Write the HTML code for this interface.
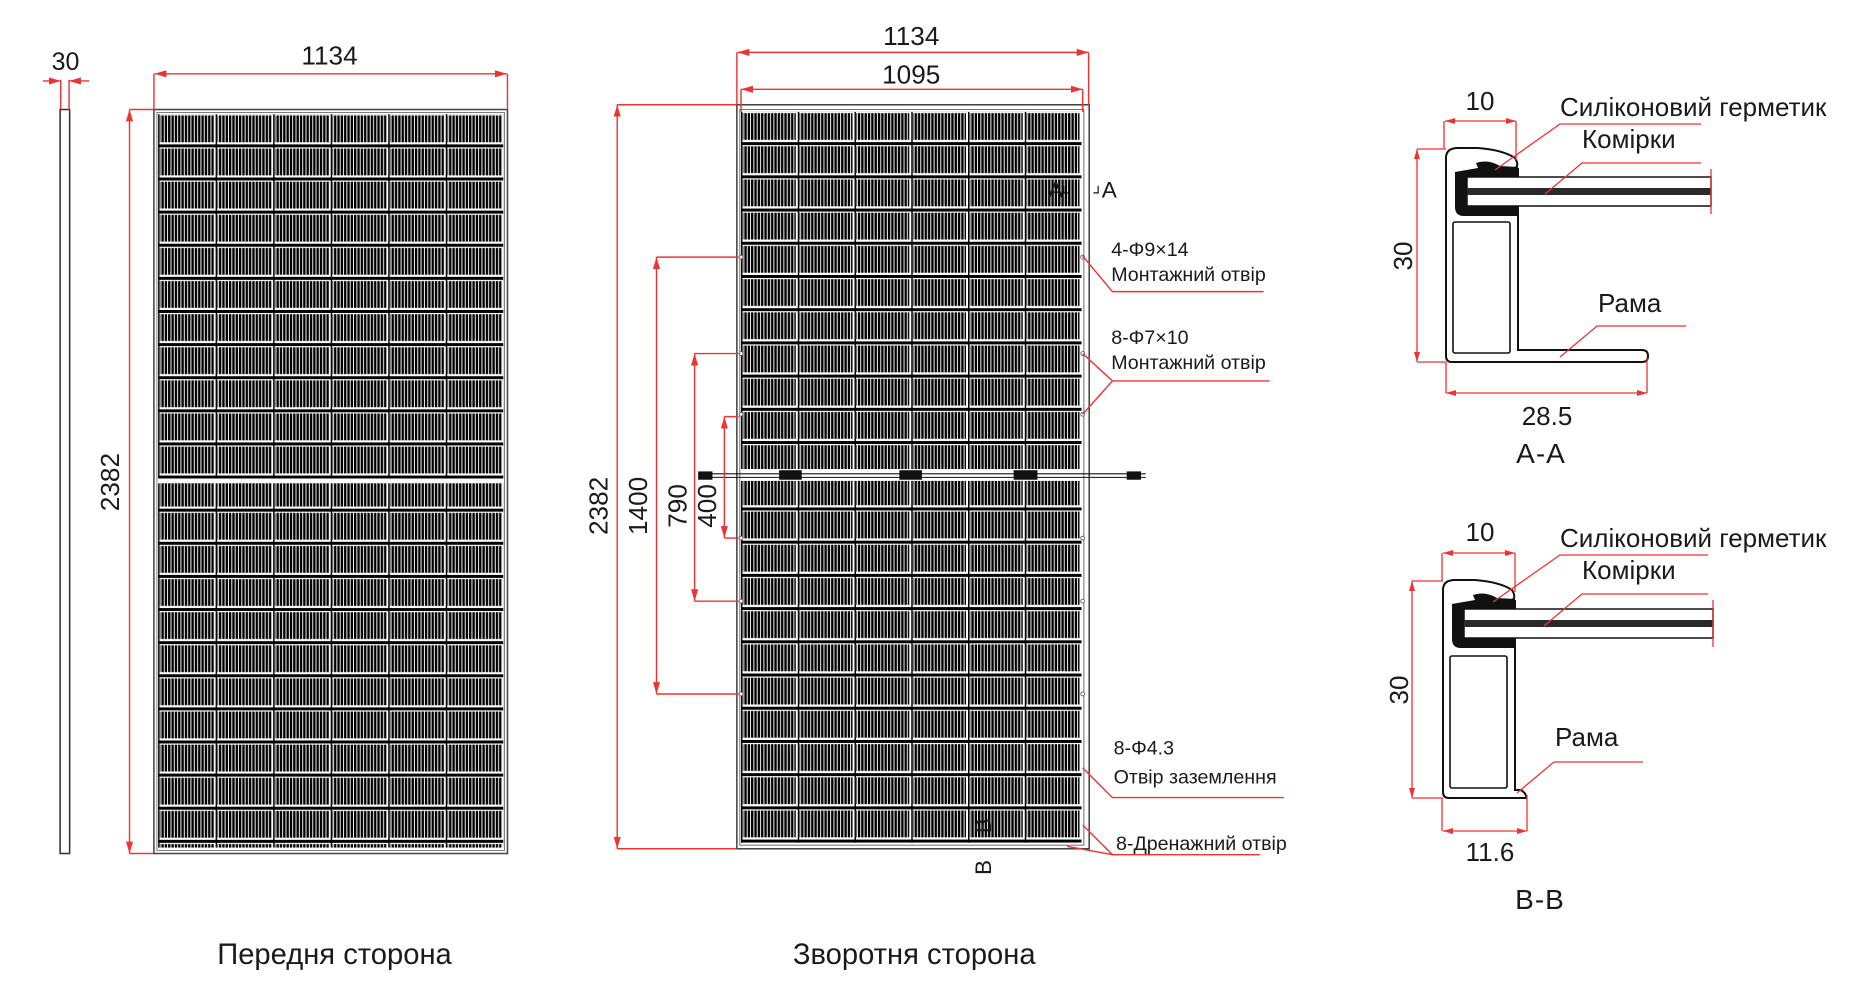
<!DOCTYPE html>
<html><head><meta charset="utf-8"><style>
html,body{margin:0;padding:0;background:#fff;}
svg{display:block;}
text{font-family:"Liberation Sans","DejaVu Sans",sans-serif;fill:#1a1a1a;}
</style></head><body>
<svg width="1857" height="992" viewBox="0 0 1857 992" xmlns="http://www.w3.org/2000/svg">
<defs>
<marker id="ar" viewBox="0 0 10 6" refX="10" refY="3" markerWidth="10" markerHeight="6" markerUnits="userSpaceOnUse" orient="auto-start-reverse"><path d="M0,0 L10,3 L0,6 z" fill="#ee3333"/></marker>
<pattern id="st" patternUnits="userSpaceOnUse" width="2.8" height="10"><rect x="0" y="0" width="2.0" height="10" fill="#000"/></pattern>
<pattern id="cf" patternUnits="userSpaceOnUse" x="134" y="96" width="48.33" height="27.82">
<rect width="48.33" height="27.82" fill="#fff"/>
<rect x="1.5" y="1" width="45.5" height="22.5" fill="url(#st)"/>
<rect x="0" y="25.3" width="48.33" height="2.5" fill="#000"/>
<rect x="0" y="0" width="1.2" height="27.82" fill="#000"/>
</pattern>
<pattern id="cb" patternUnits="userSpaceOnUse" x="626" y="94" width="47.67" height="27.9">
<rect width="47.67" height="27.9" fill="#fff"/>
<rect x="1.5" y="1" width="44.5" height="22.5" fill="url(#st)"/>
<rect x="0" y="25.4" width="47.67" height="2.5" fill="#000"/>
<rect x="0" y="0" width="1.2" height="27.9" fill="#000"/>
</pattern>
</defs>

<g transform="scale(1.1904)">
<!-- side view -->
<rect x="50.5" y="92" width="8" height="625" fill="#fff" stroke="#333" stroke-width="1.3"/>
<g stroke="#ee3333" stroke-width="1.2" fill="none">
<line x1="51" y1="92" x2="51" y2="67"/><line x1="58" y1="92" x2="58" y2="67"/>
<line x1="36" y1="68" x2="51" y2="68" marker-end="url(#ar)"/>
<line x1="75" y1="68" x2="58" y2="68" marker-end="url(#ar)"/>
</g>
<text x="55" y="59" font-size="21" text-anchor="middle">30</text>

<g transform="translate(-1.2,0)">
<rect x="130.5" y="92" width="297" height="625" fill="#fff" stroke="#444" stroke-width="1.3"/>
<rect x="133" y="94.5" width="292" height="620" fill="none" stroke="#777" stroke-width="0.8"/>
<rect x="134" y="96" width="290" height="306" fill="url(#cf)"/>
<rect x="134" y="406" width="290" height="306" fill="url(#cf)"/>
<g stroke="#ee3333" stroke-width="1.2" fill="none">
<line x1="130.5" y1="92" x2="130.5" y2="62"/><line x1="427.5" y1="92" x2="427.5" y2="62"/>
<line x1="131" y1="62" x2="427" y2="62" marker-start="url(#ar)" marker-end="url(#ar)"/>
<line x1="130" y1="92" x2="110" y2="92"/><line x1="130" y1="717" x2="110" y2="717"/>
<line x1="110" y1="92" x2="110" y2="717" marker-start="url(#ar)" marker-end="url(#ar)"/>
</g>
<text x="278" y="54" font-size="22" text-anchor="middle">1134</text>
<text transform="translate(101,405) rotate(-90)" font-size="22" text-anchor="middle">2382</text>
</g>

<g transform="translate(-3.5,0)">
<rect x="622.5" y="88" width="296" height="625" fill="#fff" stroke="#444" stroke-width="1.3"/>
<rect x="625" y="92" width="289" height="618" fill="none" stroke="#666" stroke-width="0.8"/>
<rect x="626" y="94" width="286" height="614" fill="url(#cb)"/>
<rect x="626" y="394" width="286" height="10" fill="#fff"/>
<g stroke="#111" stroke-width="0.9" fill="none">
<line x1="590" y1="398" x2="966" y2="398"/><line x1="590" y1="401" x2="966" y2="401"/>
</g>
<g fill="#111">
<rect x="590" y="396" width="12" height="7"/><rect x="658" y="395" width="19" height="8"/>
<rect x="759" y="395" width="19" height="8"/><rect x="855" y="395" width="20" height="8"/>
<rect x="950" y="396" width="12" height="7"/>
</g>
<g fill="#fff" stroke="#555" stroke-width="0.7">
<circle cx="626" cy="216" r="1.6"/><circle cx="626" cy="297" r="1.6"/><circle cx="626" cy="348" r="1.6"/>
<circle cx="626" cy="452" r="1.6"/><circle cx="626" cy="505" r="1.6"/><circle cx="626" cy="583" r="1.6"/>
<circle cx="913" cy="216" r="1.6"/><circle cx="913" cy="297" r="1.6"/><circle cx="913" cy="348" r="1.6"/>
<circle cx="913" cy="452" r="1.6"/><circle cx="913" cy="505" r="1.6"/><circle cx="913" cy="583" r="1.6"/>
</g>
<g stroke="#ee3333" stroke-width="1.2" fill="none">
<line x1="622.5" y1="88" x2="622.5" y2="44"/><line x1="918" y1="88" x2="918" y2="44"/>
<line x1="623" y1="44" x2="918" y2="44" marker-start="url(#ar)" marker-end="url(#ar)"/>
<line x1="626" y1="94" x2="626" y2="75"/><line x1="913" y1="94" x2="913" y2="75"/>
<line x1="626" y1="75" x2="913" y2="75" marker-start="url(#ar)" marker-end="url(#ar)"/>
<line x1="622" y1="88" x2="522" y2="88"/><line x1="622" y1="713" x2="522" y2="713"/>
<line x1="522" y1="88" x2="522" y2="713" marker-start="url(#ar)" marker-end="url(#ar)"/>
<line x1="624" y1="216" x2="555" y2="216"/><line x1="624" y1="583" x2="555" y2="583"/>
<line x1="555" y1="216" x2="555" y2="583" marker-start="url(#ar)" marker-end="url(#ar)"/>
<line x1="624" y1="297" x2="587" y2="297"/><line x1="624" y1="505" x2="587" y2="505"/>
<line x1="587" y1="297" x2="587" y2="505" marker-start="url(#ar)" marker-end="url(#ar)"/>
<line x1="624" y1="350" x2="612" y2="350"/><line x1="624" y1="452" x2="612" y2="452"/>
<line x1="612" y1="350" x2="612" y2="452" marker-start="url(#ar)" marker-end="url(#ar)"/>
<polyline points="913,215 938,245 1065,245"/>
<polyline points="913,297 938,320 1070,320"/><line x1="913" y1="348" x2="938" y2="320"/>
<polyline points="913,645 938,670 1082,670"/>
<polyline points="913,693 938,718 1062,718"/><line x1="900" y1="711" x2="938" y2="718"/>
</g>
<text x="769" y="38" font-size="22" text-anchor="middle">1134</text>
<text x="769" y="70" font-size="22" text-anchor="middle">1095</text>
<text transform="translate(514,425) rotate(-90)" font-size="22" text-anchor="middle">2382</text>
<text transform="translate(547,425) rotate(-90)" font-size="22" text-anchor="middle">1400</text>
<text transform="translate(580,425) rotate(-90)" font-size="22" text-anchor="middle">790</text>
<text transform="translate(605,425) rotate(-90)" font-size="22" text-anchor="middle">400</text>
<text x="884" y="166" font-size="19">A</text>
<text x="929" y="166" font-size="19">A</text>
<path d="M897,156 v6 h4 M926,156 v6 h-4" stroke="#111" stroke-width="1" fill="none"/>
<text transform="translate(836,700) rotate(-90)" font-size="19">B</text>
<text transform="translate(836,735) rotate(-90)" font-size="19">B</text>
<text x="937" y="215" font-size="16.5">4-Φ9×14</text>
<text x="937" y="236" font-size="16.5">Монтажний отвір</text>
<text x="937" y="289" font-size="16.5">8-Φ7×10</text>
<text x="937" y="310" font-size="16.5">Монтажний отвір</text>
<text x="939" y="634" font-size="16.5">8-Φ4.3</text>
<text x="939" y="658" font-size="16.5">Отвір заземлення</text>
<text x="941" y="714" font-size="16.5">8-Дренажний отвір</text>
</g>
<text x="281" y="810" font-size="24.5" text-anchor="middle">Передня сторона</text>
<text x="768" y="810" font-size="24.5" text-anchor="middle">Зворотня сторона</text>
</g>

<!-- Section A-A -->
<g>
<path d="M1446,158 Q1446,148 1458,148 L1478,148 Q1503,150 1515,158 Q1520,166 1514,169 L1518,169 L1518,350 L1642,350 Q1648,350 1648,356 Q1648,362 1642,362 L1452,362 Q1446,362 1446,356 Z" fill="#fff" stroke="#111" stroke-width="2"/>
<path d="M1455,172 L1478,168 L1476,163 Q1488,159 1500,166 L1518,167 L1518,216 L1464,216 Q1455,216 1455,207 Z" fill="#111"/>
<rect x="1467" y="177" width="244" height="29" fill="#fff" stroke="#111" stroke-width="1.5"/>
<rect x="1467" y="188" width="244" height="7" fill="#2a2a2a"/>
<rect x="1453" y="222" width="57" height="131" rx="2" fill="#fff" stroke="#111" stroke-width="1.6"/>
</g>
<g stroke="#ee3333" stroke-width="1.3" fill="none">
<line x1="1711" y1="169" x2="1711" y2="214"/>
<line x1="1444" y1="149" x2="1444" y2="121"/><line x1="1516" y1="160" x2="1516" y2="121"/>
<line x1="1445" y1="121" x2="1516" y2="121" marker-start="url(#ar)" marker-end="url(#ar)"/>
<line x1="1446" y1="149" x2="1417" y2="149"/><line x1="1446" y1="362" x2="1417" y2="362"/>
<line x1="1417" y1="149" x2="1417" y2="362" marker-start="url(#ar)" marker-end="url(#ar)"/>
<line x1="1446" y1="362" x2="1446" y2="393"/><line x1="1647" y1="358" x2="1647" y2="393"/>
<line x1="1446" y1="393" x2="1647" y2="393" marker-start="url(#ar)" marker-end="url(#ar)"/>
<polyline points="1495,170 1560,124 1701,124"/>
<polyline points="1545,194 1582,163 1701,163"/>
<polyline points="1560,357 1597,326 1686,326"/>
</g>
<text x="1480" y="110" font-size="26" text-anchor="middle">10</text>
<text transform="translate(1412,256) rotate(-90)" font-size="26" text-anchor="middle">30</text>
<text x="1560" y="116" font-size="26">Силіконовий герметик</text>
<text x="1582" y="148" font-size="26">Комірки</text>
<text x="1598" y="312" font-size="26">Рама</text>
<text x="1547" y="425" font-size="26" text-anchor="middle">28.5</text>
<text x="1541" y="463" font-size="28" text-anchor="middle" letter-spacing="1">A-A</text>

<!-- Section B-B -->
<g transform="translate(-3,432)">
<path d="M1446,158 Q1446,148 1458,148 L1478,148 Q1503,150 1515,158 Q1520,166 1514,169 L1518,169 L1518,358 L1524,358 Q1530,362 1529,366 L1452,366 Q1446,366 1446,360 Z" fill="#fff" stroke="#111" stroke-width="2"/>
<path d="M1455,172 L1478,168 L1476,163 Q1488,159 1500,166 L1518,167 L1518,216 L1464,216 Q1455,216 1455,207 Z" fill="#111"/>
<rect x="1467" y="177" width="249" height="29" fill="#fff" stroke="#111" stroke-width="1.5"/>
<rect x="1467" y="188" width="249" height="7" fill="#2a2a2a"/>
<rect x="1453" y="224" width="57" height="132" rx="2" fill="#fff" stroke="#111" stroke-width="1.6"/>
</g>
<g stroke="#ee3333" stroke-width="1.3" fill="none">
<line x1="1713" y1="600" x2="1713" y2="647"/>
<line x1="1442" y1="581" x2="1442" y2="553"/><line x1="1515" y1="592" x2="1515" y2="553"/>
<line x1="1443" y1="553" x2="1515" y2="553" marker-start="url(#ar)" marker-end="url(#ar)"/>
<line x1="1443" y1="581" x2="1412" y2="581"/><line x1="1443" y1="798" x2="1412" y2="798"/>
<line x1="1412" y1="581" x2="1412" y2="798" marker-start="url(#ar)" marker-end="url(#ar)"/>
<line x1="1442" y1="798" x2="1442" y2="831"/><line x1="1527" y1="795" x2="1527" y2="831"/>
<line x1="1443" y1="831" x2="1527" y2="831" marker-start="url(#ar)" marker-end="url(#ar)"/>
<polyline points="1493,602 1560,555 1708,555"/>
<polyline points="1544,626 1582,594 1708,594"/>
<polyline points="1517,793 1554,762 1643,762"/>
</g>
<text x="1480" y="541" font-size="26" text-anchor="middle">10</text>
<text transform="translate(1408,690) rotate(-90)" font-size="26" text-anchor="middle">30</text>
<text x="1560" y="547" font-size="26">Силіконовий герметик</text>
<text x="1582" y="579" font-size="26">Комірки</text>
<text x="1555" y="746" font-size="26">Рама</text>
<text x="1490" y="861" font-size="26" text-anchor="middle">11.6</text>
<text x="1540" y="909" font-size="28" text-anchor="middle" letter-spacing="1">B-B</text>
</svg>
</body></html>
